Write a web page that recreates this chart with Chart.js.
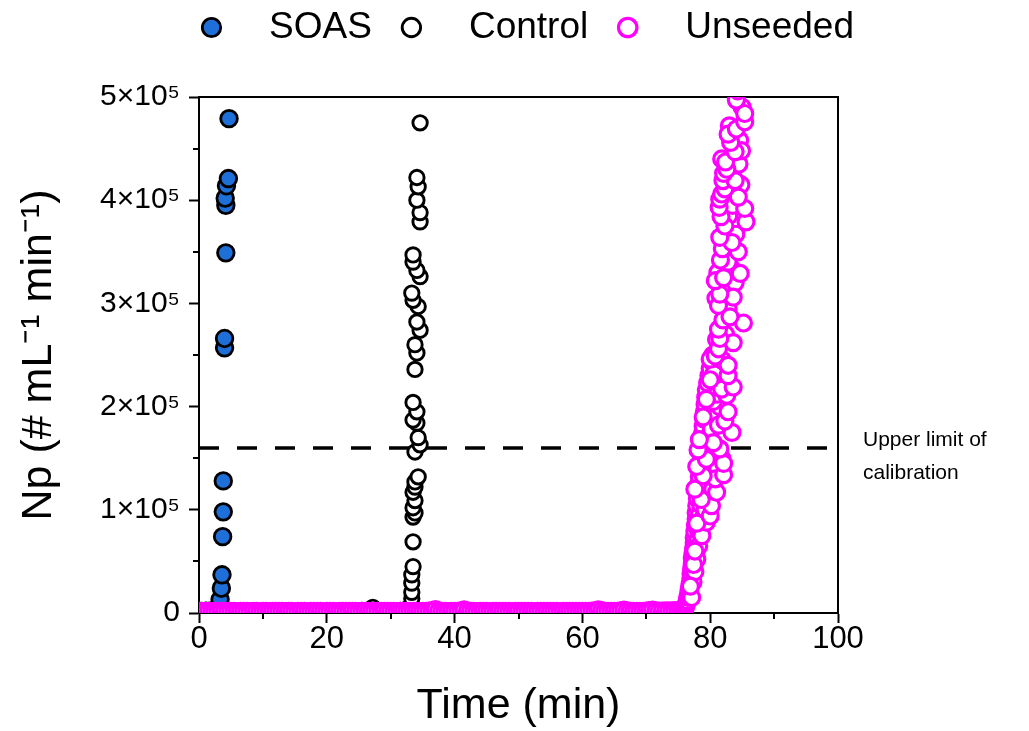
<!DOCTYPE html>
<html>
<head>
<meta charset="utf-8">
<script src="https://cdn.jsdelivr.net/npm/chart.js@4/dist/chart.umd.min.js"></script>
<style>
html,body{margin:0;padding:0;background:#fff;}
#wrap{width:1029px;height:731px;}
</style>
</head>
<body>
<div id="wrap"><canvas id="c" width="1029" height="731"></canvas></div>
<script>
// ---------- DATA ----------
const xTickValues = [0, 20, 40, 60, 80, 100];
const yTickValues = [0, 100000, 200000, 300000, 400000, 500000];
const calibrationLimit = 160000;
const calibrationLabel = ['Upper limit of', 'calibration'];

const soasTime = [0.4, 1.1, 1.9, 2.7, 3.3, 3.5, 3.6, 3.7, 3.8, 3.8, 4.0, 4.0, 4.2, 4.2, 4.1, 4.3, 4.6, 4.7];
const soasNp   = [1500, 1700, 2100, 3500, 13000, 24000, 37000, 74000, 98000, 128000, 257000, 266000, 349000, 395000, 402000, 414000, 421000, 479000];

const controlTime = [1.5, 5.5, 9.5, 13.5, 17.5, 21.5, 25.5, 27.2, 29.5, 31.5, 32.8, 33.3, 33.3, 33.3, 33.3, 33.5, 33.5, 33.5, 33.8, 33.5,
  33.8, 33.5, 33.8, 33.8, 34.3, 33.8, 34.6, 34.3, 34.1, 33.5, 34.1, 33.5, 33.8, 34.1, 33.8, 34.6, 34.1, 34.3, 33.5, 33.3,
  34.6, 34.1, 33.5, 33.5, 34.6, 34.6, 34.1, 34.3, 34.1, 34.6];
const controlNp = [1800, 2000, 1600, 2200, 1900, 2100, 2400, 5500, 2300, 2600, 5000, 14000, 20000, 29000, 37000, 45000, 69000, 93000, 97000, 102000,
  109000, 117000, 122000, 127000, 132000, 156000, 163000, 170000, 184000, 187000, 195000, 204000, 236000, 252000, 260000, 274000, 282000, 297000, 303000, 310000,
  326000, 332000, 340000, 347000, 379000, 388000, 400000, 413000, 422000, 475000];

const unseededBaseTime = [
  0, 0.5, 1, 1.5, 2, 2.5, 3, 3.5, 4, 4.5,
  5, 5.5, 6, 6.5, 7, 7.5, 8, 8.5, 9, 9.5,
  10, 10.5, 11, 11.5, 12, 12.5, 13, 13.5, 14, 14.5,
  15, 15.5, 16, 16.5, 17, 17.5, 18, 18.5, 19, 19.5,
  20, 20.5, 21, 21.5, 22, 22.5, 23, 23.5, 24, 24.5,
  25, 25.5, 26, 26.5, 27, 27.5, 28, 28.5, 29, 29.5,
  30, 30.5, 31, 31.5, 32, 32.5, 33, 33.5, 34, 34.5,
  35, 35.5, 36, 36.5, 37, 37.5, 38, 38.5, 39, 39.5,
  40, 40.5, 41, 41.5, 42, 42.5, 43, 43.5, 44, 44.5,
  45, 45.5, 46, 46.5, 47, 47.5, 48, 48.5, 49, 49.5,
  50, 50.5, 51, 51.5, 52, 52.5, 53, 53.5, 54, 54.5,
  55, 55.5, 56, 56.5, 57, 57.5, 58, 58.5, 59, 59.5,
  60, 60.5, 61, 61.5, 62, 62.5, 63, 63.5, 64, 64.5,
  65, 65.5, 66, 66.5, 67, 67.5, 68, 68.5, 69, 69.5,
  70, 70.5, 71, 71.5, 72, 72.5, 73, 73.5, 74, 74.5,
  75, 75.5];
const unseededBaseNp = [
  1500, 1400, 1600, 1500, 1300, 1500, 1700, 1600, 1400, 1500,
  1600, 1500, 1400, 1500, 1700, 1500, 1400, 1600, 1500, 1300,
  1500, 1600, 1400, 1500, 1500, 1700, 1600, 1400, 1500, 1600,
  1400, 1500, 1600, 1500, 1300, 1500, 1600, 1700, 1500, 1400,
  1500, 1600, 1500, 1400, 1500, 1600, 1500, 1700, 1600, 1500,
  1400, 1500, 1600, 1500, 1400, 1600, 1500, 1500, 1700, 1500,
  1600, 1500, 1400, 1500, 1600, 1500, 1700, 1600, 1500, 1400,
  1500, 1600, 1800, 2300, 3200, 2000, 1600, 1500, 1400, 1500,
  1600, 1700, 2200, 3000, 1900, 1600, 1500, 1400, 1500, 1600,
  1500, 1400, 1600, 1500, 1700, 1500, 1600, 1500, 1400, 1500,
  1600, 1500, 1700, 1600, 1500, 1400, 1500, 1600, 1500, 1700,
  1500, 1600, 1500, 1400, 1600, 1500, 1700, 1500, 1600, 1500,
  1500, 1600, 1700, 1800, 2200, 3100, 2300, 1700, 1600, 1500,
  1600, 1700, 2000, 2800, 2000, 1600, 1500, 1600, 1700, 1600,
  1800, 2400, 2900, 2100, 1800, 1900, 2000, 2200, 2100, 2300,
  2400, 2600];

const unseededRiseTime = [
  75.7, 75.9, 76.1, 76.2, 76.3, 76.4, 76.5, 76.6, 76.7, 76.8, 76.9, 77.0, 77.0, 77.1, 77.2, 77.2, 77.3, 77.4, 77.5, 77.5,
  77.6, 77.7, 77.8, 77.8, 77.9, 78.0, 78.1, 78.2, 78.3, 78.4, 78.5, 78.6, 78.7, 78.7, 78.8, 78.9, 79.0, 79.1, 79.2, 79.3,
  79.4, 79.6, 79.8, 80.0, 80.2, 80.4,
  77.8, 78.0, 78.2, 78.3, 78.5, 78.6, 78.8,
  77.3, 77.6, 77.9, 78.2, 78.4, 78.9, 79.2, 79.6, 79.9, 80.3, 80.6, 79.0, 79.8, 80.4, 81.2, 81.8,
  79.6, 80.2, 80.9, 81.5, 80.5, 81.1, 82.0, 81.6, 80.6, 81.9,
  81.0, 82.4, 82.8, 80.9, 82.5, 83.9, 81.2, 83.2, 82.2, 84.0, 82.9, 83.5, 84.8, 83.4, 84.5, 81.8, 83.0, 84.6, 85.0,
  77.1, 76.9, 77.4, 77.6, 78.7, 79.4, 77.9, 80.0, 80.2, 78.6, 81.0, 77.6, 80.8, 78.9, 82.1, 82.1, 77.9, 79.4, 78.1, 81.5,
  80.5, 78.3, 83.4, 81.3, 82.3, 78.9, 82.8, 79.4, 82.6, 81.8, 83.6, 80.0, 82.8, 82.8, 80.0, 80.8, 81.3, 83.6, 81.5, 81.3,
  85.2, 82.0, 83.1, 81.3, 83.6, 81.5, 80.8, 82.1, 84.7, 82.8, 81.6, 84.4, 81.9, 83.4, 81.5, 82.3, 85.6, 81.7, 85.4, 81.4,
  81.5, 84.4, 81.8, 82.3, 82.0, 83.9, 82.1, 82.6, 82.4, 84.9, 83.9, 83.2, 82.8, 84.1, 85.4, 85.4, 84.1, 84.3];
const unseededRiseNp = [
  2500, 3500, 5000, 7000, 9000, 12000, 15000, 18000, 22000, 26000, 30000, 34000, 38000, 43000, 48000, 53000, 58000, 63000, 68000, 73000,
  79000, 85000, 91000, 97000, 104000, 111000, 118000, 125000, 132000, 139000, 146000, 153000, 160000, 167000, 174000, 181000, 188000, 195000, 202000, 209000,
  216000, 223000, 230000, 237000, 244000, 250000,
  60000, 70000, 80000, 95000, 105000, 120000, 140000,
  30000, 40000, 52000, 65000, 78000, 92000, 100000, 112000, 125000, 140000, 150000, 118000, 135000, 120000, 140000, 150000,
  170000, 178000, 190000, 200000, 205000, 212000, 225000, 235000, 232000, 245000,
  265000, 270000, 295000, 305000, 315000, 320000, 330000, 335000, 345000, 367000, 385000, 395000, 415000, 425000, 435000, 440000, 472000, 458000, 490000,
  15000, 26000, 47000, 60000, 75000, 88000, 87000, 94000, 104000, 110000, 117000, 120000, 130000, 133000, 134000, 145000, 142000, 149000, 158000, 159000,
  165000, 168000, 175000, 182000, 186000, 190000, 195000, 207000, 211000, 217000, 219000, 226000, 230000, 240000, 246000, 249000, 256000, 262000, 266000, 275000,
  281000, 284000, 287000, 298000, 306000, 309000, 322000, 325000, 329000, 340000, 342000, 350000, 353000, 359000, 364000, 375000, 379000, 384000, 392000, 393000,
  401000, 403000, 406000, 411000, 419000, 419000, 426000, 430000, 437000, 448000, 447000, 456000, 464000, 469000, 476000, 484000, 497000, 506000];

// ---------- BUILD ----------
const toPts = (t, v) => t.map((x, i) => ({x: x, y: v[i]}));
const unseededTime = unseededBaseTime.concat(unseededRiseTime);
const unseededNp = unseededBaseNp.concat(unseededRiseNp);

const FONT = "'Liberation Sans', Arial, Helvetica, sans-serif";
Chart.defaults.color = '#000';
Chart.defaults.font.family = FONT;

const extrasPlugin = {
  id: 'extras',
  afterDraw(chart) {
    const ctx = chart.ctx;
    const xs = chart.scales.x, ys = chart.scales.y;
    const ca = chart.chartArea;
    ctx.save();
    ctx.strokeStyle = '#000';
    ctx.lineWidth = 2;
    // minor ticks
    [10, 30, 50, 70, 90].forEach(v => {
      const px = Math.round(xs.getPixelForValue(v));
      ctx.beginPath(); ctx.moveTo(px, ca.bottom); ctx.lineTo(px, ca.bottom + 6); ctx.stroke();
    });
    [50000, 150000, 250000, 350000, 450000].forEach(v => {
      const py = Math.round(ys.getPixelForValue(v));
      ctx.beginPath(); ctx.moveTo(ca.left, py); ctx.lineTo(ca.left - 6, py); ctx.stroke();
    });
    // annotation text
    const yl = ys.getPixelForValue(calibrationLimit);
    ctx.fillStyle = '#000';
    ctx.font = '21px ' + FONT;
    ctx.textAlign = 'left';
    ctx.textBaseline = 'middle';
    ctx.fillText(calibrationLabel[0], ca.right + 25, yl - 8);
    ctx.fillText(calibrationLabel[1], ca.right + 25, yl + 25);
    ctx.restore();
  }
};

new Chart(document.getElementById('c'), {
  type: 'scatter',
  data: {
    datasets: [
      {
        label: 'SOAS',
        data: toPts(soasTime, soasNp),
        pointStyle: 'circle',
        pointRadius: 8.3,
        pointBorderWidth: 2.8,
        borderColor: '#000',
        backgroundColor: '#1f6fd8',
        order: 2,
        clip: 0
      },
      {
        label: 'Control',
        data: toPts(controlTime, controlNp),
        pointStyle: 'circle',
        pointRadius: 7.2,
        pointBorderWidth: 2.9,
        borderColor: '#000',
        backgroundColor: '#fff',
        order: 1,
        clip: 0
      },
      {
        label: 'Unseeded',
        data: toPts(unseededTime, unseededNp),
        pointStyle: 'circle',
        pointRadius: 8,
        pointBorderWidth: 3.2,
        borderColor: '#ff00ff',
        backgroundColor: '#fff',
        order: 0,
        clip: 0
      },
      {
        type: 'line',
        label: 'limit',
        data: [{x: 0, y: calibrationLimit}, {x: 100, y: calibrationLimit}],
        borderColor: '#000',
        borderWidth: 3.5,
        borderDash: [20, 18],
        pointRadius: 0,
        fill: false,
        showLine: true,
        order: 3,
        clip: 0
      }
    ]
  },
  options: {
    responsive: false,
    animation: false,
    devicePixelRatio: 1,
    layout: { padding: { top: -12, left: 18, right: 0, bottom: 0 } },
    plugins: {
      tooltip: { enabled: false },
      legend: {
        position: 'top',
        labels: {
          usePointStyle: true,
          boxWidth: 37,
          boxHeight: 13,
          padding: 21,
          color: '#000',
          font: { size: 37, family: FONT },
          filter: (item) => item.datasetIndex !== 3,
          sort: (a, b) => a.datasetIndex - b.datasetIndex,
          generateLabels: (chart) => Chart.defaults.plugins.legend.labels.generateLabels(chart)
            .map(l => Object.assign({}, l, { text: '  ' + l.text }))
        }
      }
    },
    scales: {
      x: {
        type: 'linear',
        position: 'bottom',
        min: 0, max: 100,
        afterFit: (s) => { s.height = 118; },
        border: { display: true, color: '#000', width: 2 },
        grid: { display: true, drawOnChartArea: false, drawTicks: true, tickLength: 10, tickWidth: 2, tickColor: '#000' },
        ticks: {
          stepSize: 20, padding: -2, color: '#000',
          font: { size: 31, family: FONT },
          maxRotation: 0,
          callback: (v) => xTickValues.includes(v) ? String(v) : ''
        },
        title: { display: true, text: 'Time (min)', color: '#000', font: { size: 43, family: FONT, lineHeight: 1.0 }, padding: { top: 0, bottom: 3 } }
      },
      y: {
        type: 'linear',
        position: 'left',
        min: 0, max: 500000,
        afterFit: (s) => { s.width = 181; },
        border: { display: true, color: '#000', width: 2 },
        grid: { display: true, drawOnChartArea: false, drawTicks: true, tickLength: 10, tickWidth: 2, tickColor: '#000' },
        ticks: {
          stepSize: 100000, padding: 9, color: '#000',
          font: { size: 30, family: FONT },
          callback: (v) => yTickValues.includes(v) ? (v === 0 ? '0' : (v / 100000) + '×10⁵') : ''
        },
        title: { display: true, text: 'Np (# mL⁻¹ min⁻¹)', color: '#000', font: { size: 43, family: FONT, lineHeight: 1.0 }, padding: { top: 0, bottom: 0 } }
      },
      x2: {
        type: 'linear',
        position: 'top',
        afterFit: (s) => { s.height = 41; },
        border: { display: true, color: '#000', width: 2 },
        grid: { display: false },
        ticks: { display: false }
      },
      y2: {
        type: 'linear',
        position: 'right',
        afterFit: (s) => { s.width = 191; },
        border: { display: true, color: '#000', width: 2 },
        grid: { display: false },
        ticks: { display: false }
      }
    }
  },
  plugins: [extrasPlugin]
});
</script>
</body>
</html>
